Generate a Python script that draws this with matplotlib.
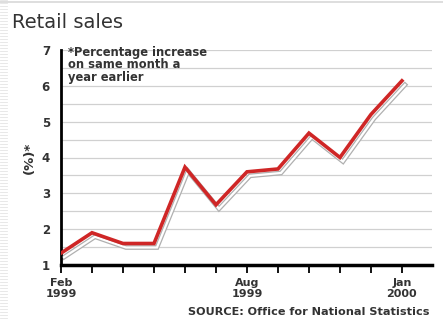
import matplotlib
matplotlib.use("Agg")
import matplotlib.pyplot as plt
from matplotlib import transforms
import numpy as np

months = ["Feb", "Mar", "Apr", "May", "Jun", "Jul", "Aug", "Sep", "Oct", "Nov", "Dec", "Jan"]
values = [1.33, 1.9, 1.6, 1.6, 3.73, 2.68, 3.6, 3.68, 4.68, 4.0, 5.2, 6.14]
tick_labels = ["Feb\n1999", "", "", "", "", "", "Aug\n1999", "", "", "", "", "Jan\n2000"]
y_ticks = [1, 2, 3, 4, 5, 6, 7]

fig = plt.figure(figsize=(4.43, 3.2), dpi=100)
fig.patch.set_facecolor("white")

# decorative page border stripes
for i in range(0, 320, 3):
    fig.add_artist(plt.Line2D([0, 7/443], [1 - i/320, 1 - i/320], color="#e4e4e4", lw=0.6))
fig.add_artist(plt.Line2D([0, 1], [1 - 2/320, 1 - 2/320], color="#d8d8d8", lw=1.2))

ax = fig.add_axes([61/443, 1 - 265/320, (432 - 61)/443, 215/320])
ax.set_xlim(0, 11.97)
ax.set_ylim(1, 7)

x = np.arange(len(months))

# gridlines every half unit
for g in np.arange(1.5, 7.01, 0.5):
    ax.axhline(g, color="#d0d0d0", lw=0.9, zorder=1)

# shadow line
off = transforms.offset_copy(ax.transData, fig=fig, x=3, y=-4, units="dots")
ax.plot(x, values, color="#b0b0b0", lw=3.4, transform=off, zorder=2, solid_joinstyle="miter")
ax.plot(x, values, color="white", lw=1.6, transform=off, zorder=3, solid_joinstyle="miter")
# main line
ax.plot(x, values, color="#cf2626", lw=2.6, zorder=4, solid_joinstyle="miter")

for s in ["top", "right"]:
    ax.spines[s].set_visible(False)
ax.spines["left"].set_linewidth(2.0)
ax.spines["bottom"].set_linewidth(2.5)

ax.set_xticks(x)
ax.set_xticklabels(tick_labels, fontsize=8, fontweight="bold", color="#333333", linespacing=1.15)
ax.tick_params(axis="x", direction="out", length=6, width=1.3, pad=3)
ax.set_yticks(y_ticks)
ax.set_yticklabels([str(v) for v in y_ticks], fontsize=8.5, fontweight="bold", color="#333333")
ax.tick_params(axis="y", length=0, pad=8)

ax.set_ylabel("(%)*", fontsize=9.5, fontweight="bold", color="#333333", labelpad=4)

ax.text(0.018, 1.02, "*Percentage increase\non same month a\nyear earlier", transform=ax.transAxes,
        ha="left", va="top", fontsize=8.3, fontweight="bold", color="#333333", linespacing=0.95, zorder=5)

fig.text(12/443, 1 - 22/320, "Retail sales", fontsize=14, color="#333333", ha="left", va="center")
fig.text(430/443, 1 - 312/320, "SOURCE: Office for National Statistics", fontsize=8.1,
         fontweight="bold", color="#333333", ha="right", va="center")

fig.savefig("out.png", dpi=100)
